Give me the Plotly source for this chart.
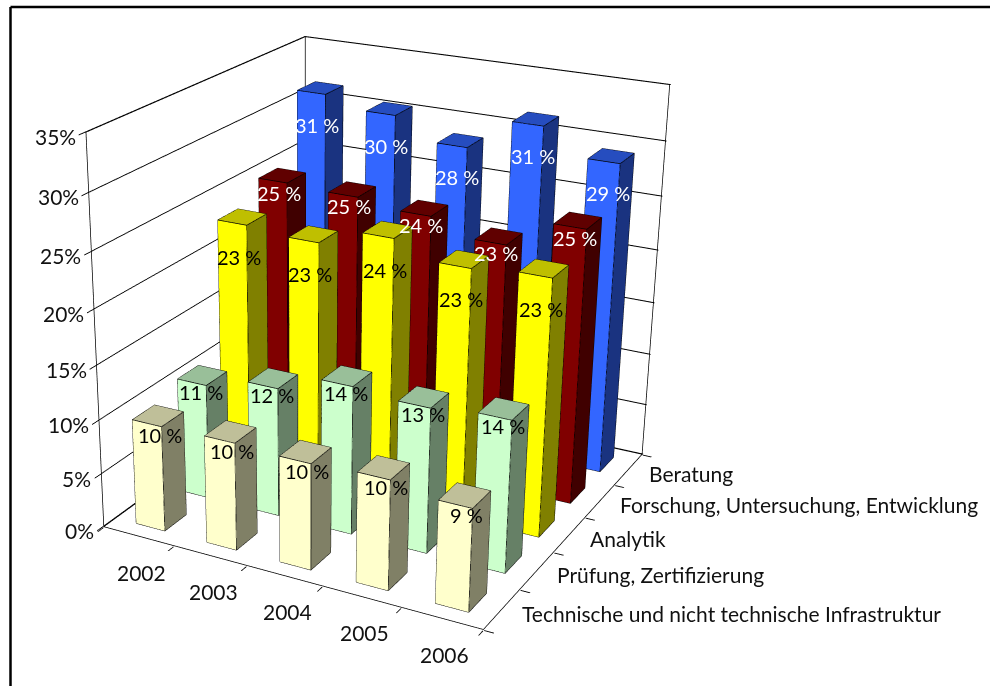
import math
import plotly.graph_objects as go

years = ["2002", "2003", "2004", "2005", "2006"]
categories = ["Technische und nicht technische Infrastruktur", "Prüfung, Zertifizierung",
              "Analytik", "Forschung, Untersuchung, Entwicklung", "Beratung"]
infrastruktur = [9.8, 9.9, 9.7, 9.95, 9.2]
pruefung = [10.8, 12.0, 13.7, 13.3, 13.8]
analytik = [23.2, 22.8, 24.4, 23.0, 23.45]
forschung = [25.0, 24.8, 24.2, 22.8, 25.4]
beratung = [31.4, 30.4, 28.45, 31.4, 29.1]
series = [infrastruktur, pruefung, analytik, forschung, beratung]
z_ticks = [0, 5, 10, 15, 20, 25, 30, 35]
z_labels = ["0%", "5%", "10%", "15%", "20%", "25%", "30%", "35%"]
# front, side, top, text
colors = [("#FFFFCC", "#808066", "#BFBF99", "#000000"),
          ("#CCFFCC", "#668066", "#99BF99", "#000000"),
          ("#FFFF00", "#808000", "#BFBF00", "#000000"),
          ("#800000", "#400000", "#600000", "#FFFFFF"),
          ("#3366FF", "#1A3380", "#264DBF", "#FFFFFF")]
label_lift = [-19, -17, -40, -17, -37]
label_nudge = [2, -1, -3, -3, -3]

FONT = "Lato"
BW, BD = 0.41, 0.48
x0, x1, y0, y1, z1 = -0.5, 4.5, -0.5, 4.5, 35
PAD_XY, PAD_Z = 0.01, 0.07

fig = go.Figure()
annotations = []
ex, ey, ez = [], [], []
for iy, vals in enumerate(series):
    X, Y, Z, I, J, K, FC = [], [], [], [], [], [], []
    front, side, top, tc = colors[iy]
    for ix, v in enumerate(vals):
        a, b = ix - BW / 2, ix + BW / 2
        c, d = iy - BD / 2, iy + BD / 2
        n = len(X)
        X += [a, b, b, a, a, b, b, a]
        Y += [c, c, d, d, c, c, d, d]
        Z += [0, 0, 0, 0, v, v, v, v]
        tris = [(0, 1, 5, front), (0, 5, 4, front), (1, 2, 6, side), (1, 6, 5, side),
                (4, 5, 6, top), (4, 6, 7, top), (0, 3, 7, front), (0, 7, 4, front),
                (3, 2, 6, side), (3, 6, 7, side)]
        for p, q, r, col in tris:
            I.append(n + p); J.append(n + q); K.append(n + r); FC.append(col)
        for path in [[(a, c, 0), (b, c, 0), (b, d, 0)],
                     [(a, c, 0), (a, c, v), (a, d, v), (b, d, v), (b, c, v), (a, c, v)],
                     [(b, c, 0), (b, c, v)], [(b, d, 0), (b, d, v)]]:
            for pt in path:
                ex.append(pt[0]); ey.append(pt[1]); ez.append(pt[2])
            ex.append(None); ey.append(None); ez.append(None)
        annotations.append(dict(x=ix, y=iy, z=v, text=f"{round(v)} %", showarrow=False,
                                yshift=label_lift[iy], xshift=label_nudge[iy],
                                font=dict(family=FONT, size=20, color=tc)))
    fig.add_trace(go.Mesh3d(x=X, y=Y, z=Z, i=I, j=J, k=K, facecolor=FC, flatshading=True,
                            lighting=dict(ambient=1, diffuse=0, specular=0, roughness=1, fresnel=0),
                            hoverinfo="skip", showscale=False))

fig.add_trace(go.Scatter3d(x=ex, y=ey, z=ez, mode="lines", line=dict(color="black", width=1.5),
                           hoverinfo="skip", showlegend=False))

fx = [x0, x0, x0, x1, x1, None, x0, x0, None, x0, x1, x1, x0, x0]
fy = [y0, y0, y1, y1, y1, None, y1, y1, None, y0, y0, y1, y1, y0]
fz = [0, z1, z1, z1, 0, None, 0, z1, None, 0, 0, 0, 0, 0]
fig.add_trace(go.Scatter3d(x=fx, y=fy, z=fz, mode="lines", line=dict(color="black", width=1.5),
                           hoverinfo="skip", showlegend=False))

for i, name in enumerate(categories):
    annotations.append(dict(x=x1, y=i, z=0, text=name, showarrow=False, xanchor="left", xshift=18, yshift=-4,
                            font=dict(family=FONT, size=21, color="#111111")))
for i, name in enumerate(years):
    annotations.append(dict(x=i, y=y0, z=0, text=name, showarrow=False, xshift=3, yshift=-36,
                            font=dict(family=FONT, size=21, color="#111111")))
for t, name in zip(z_ticks, z_labels):
    annotations.append(dict(x=x0, y=y0, z=t, text=name, showarrow=False, xanchor="right", xshift=-8, yshift=-4,
                            font=dict(family=FONT, size=21, color="#111111")))

# view: the reference has a narrow field of view, so the page shows a crop of a larger figure
AZ, EL, D = math.radians(28.8), math.radians(23.2), 4.834
W, H, LEFT, TOP = 2361, 1636, 304 - 2361 / 2, 369 - 1636 / 2
e = (math.sin(AZ) * math.cos(EL), -math.cos(AZ) * math.cos(EL), math.sin(EL))
r = (math.cos(AZ), math.sin(AZ), 0)
u = (-math.sin(AZ) * math.sin(EL), math.cos(AZ) * math.sin(EL), math.cos(EL))
c = tuple(-0.2 * r[k] - 0.154 * u[k] for k in range(3))
eye = dict(x=c[0] + D * e[0], y=c[1] + D * e[1], z=c[2] + D * e[2])


def px(v):
    return (v - LEFT) / W


def py(v):
    return 1 - (v - TOP) / H


plain = dict(showgrid=False, zeroline=False, showbackground=False, showticklabels=False,
             title="", showspikes=False, ticks="outside", ticklen=8, tickcolor="black", tickwidth=2)
edges = [-0.5, 0.5, 1.5, 2.5, 3.5, 4.5]
fig.update_layout(
    width=W, height=H, margin=dict(l=0, r=0, t=0, b=0), paper_bgcolor="white",
    showlegend=False, font=dict(family=FONT, size=21, color="#111111"),
    shapes=[dict(type="line", xref="paper", yref="paper", x0=px(10), x1=px(990), y0=py(7), y1=py(7),
                 line=dict(color="black", width=2.5)),
            dict(type="line", xref="paper", yref="paper", x0=px(10), x1=px(10), y0=py(686), y1=py(7),
                 line=dict(color="black", width=2.5))],
    scene=dict(
        domain=dict(x=[0, 1], y=[0, 1]),
        aspectmode="manual", aspectratio=dict(x=1.02, y=1.03, z=1.005),
        camera=dict(eye=eye, center=dict(x=c[0], y=c[1], z=c[2]), up=dict(x=0, y=0, z=1),
                    projection=dict(type="perspective")),
        xaxis=dict(range=[x0 - PAD_XY, x1 + PAD_XY], tickvals=edges, **plain),
        yaxis=dict(range=[y0 - PAD_XY, y1 + PAD_XY], tickvals=edges, **plain),
        zaxis=dict(range=[-PAD_Z, z1 + PAD_Z], tickvals=z_ticks, showgrid=True, gridcolor="black", gridwidth=2,
                   zeroline=False, showbackground=False, ticks="outside", ticklen=8, tickcolor="black", tickwidth=2,
                   showticklabels=False, title="", showspikes=False),
        annotations=annotations,
    ),
)
post = ("document.documentElement.style.overflow='hidden';document.body.style.margin='0';"
        "document.body.style.overflow='hidden';var g=document.querySelector('.plotly-graph-div');"
        f"g.style.position='fixed';g.style.left='{LEFT}px';g.style.top='{TOP}px';")
fig.write_html("out.html", config=dict(displayModeBar=False), post_script=post)
